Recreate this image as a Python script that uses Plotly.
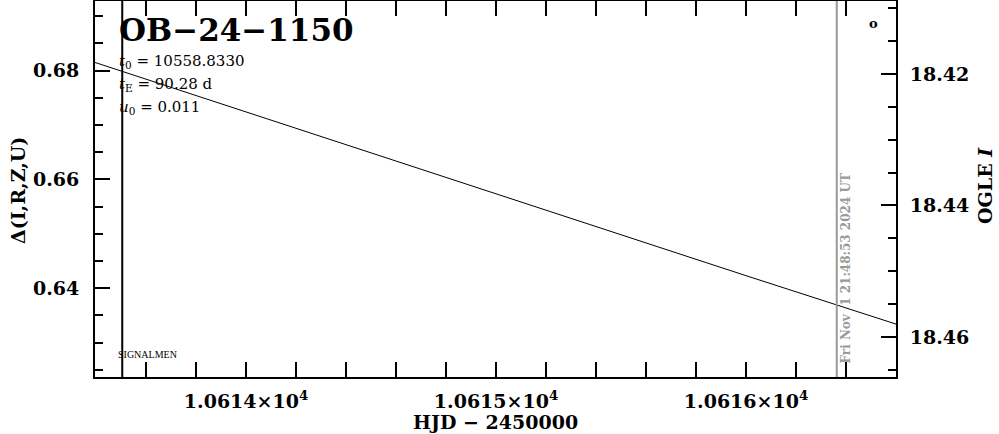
import plotly.graph_objects as go

# ---- data ----
model_hjd = [10613.396, 10614.0, 10615.0, 10616.0, 10616.6]
model_delta = [0.6815, 0.6724, 0.6573, 0.6423, 0.6334]
x_tick_vals = [10614, 10615, 10616]
x_tick_text = ["1.0614×10<sup>4</sup>", "1.0615×10<sup>4</sup>", "1.0616×10<sup>4</sup>"]
left_tick_vals = [0.64, 0.66, 0.68]
right_tick_vals = [18.42, 18.44, 18.46]
signalmen_hjd = 10613.505
now_hjd = 10616.363
x_range = [10613.396, 10616.6]
left_range = [0.62367, 0.6928]
right_range = [18.4661, 18.4089]
event_name = "OB−24−1150"
params_text = ["<i>t</i><sub>0</sub> = 10558.8330",
               "<i>t</i><sub>E</sub> = 90.28 d",
               "<i>u</i><sub>0</sub> = 0.011"]
now_text = "Fri Nov  1 21:48:53 2024 UT"
x_title = "HJD − 2450000"
left_title = "Δ(I,R,Z,U)"
right_title = "OGLE <i>I</i>"

SERIF = "DejaVu Serif"
tickfont = dict(family=SERIF, size=19, color="black", weight="bold")
titlefont = dict(family=SERIF, size=19, color="black", weight="bold")

fig = go.Figure()
fig.add_trace(go.Scatter(x=model_hjd, y=model_delta, mode="lines",
                         line=dict(color="black", width=1), showlegend=False,
                         hoverinfo="skip"))
# dummy trace to activate right axis
fig.add_trace(go.Scatter(x=[x_range[0]], y=[right_range[0]], yaxis="y2",
                         mode="markers", marker=dict(opacity=0), showlegend=False,
                         hoverinfo="skip"))

axis_common = dict(showgrid=False, zeroline=False, showline=True, linecolor="black",
                   linewidth=2, ticks="inside", tickcolor="black", tickwidth=2,
                   ticklen=15, tickfont=tickfont, automargin=False)

fig.update_layout(
    width=999, height=434,
    margin=dict(l=95, r=103, t=1, b=57),
    paper_bgcolor="white", plot_bgcolor="white",
    xaxis=dict(range=x_range, tickmode="array", tickvals=x_tick_vals,
               ticktext=x_tick_text, mirror="allticks",
               minor=dict(dtick=0.2, tick0=10614, ticklen=8, tickwidth=2,
                          tickcolor="black", ticks="inside"),
               ticklabelstandoff=6, **axis_common),
    yaxis=dict(range=left_range, tickmode="array", tickvals=left_tick_vals,
               tickformat=".2f",
               minor=dict(dtick=0.005, tick0=0.64, ticklen=8, tickwidth=2,
                          tickcolor="black", ticks="inside"),
               ticklabelstandoff=10, **axis_common),
    yaxis2=dict(range=right_range, overlaying="y", side="right", anchor="x",
                tickmode="array", tickvals=right_tick_vals, tickformat=".2f",
                minor=dict(dtick=0.005, tick0=18.42, ticklen=8, tickwidth=2,
                           tickcolor="black", ticks="inside"),
                ticklabelstandoff=8, **axis_common),
)

fig.add_shape(type="line", xref="x", yref="paper", x0=signalmen_hjd, x1=signalmen_hjd,
              y0=0, y1=1, line=dict(color="black", width=2))
fig.add_shape(type="line", xref="x", yref="paper", x0=now_hjd, x1=now_hjd,
              y0=0, y1=1, line=dict(color="#999999", width=2))

# axis titles
fig.add_annotation(xref="paper", yref="paper", x=0.5, y=0, yshift=-45,
                   xanchor="center", yanchor="middle", text=x_title,
                   showarrow=False, font=titlefont)
fig.add_annotation(xref="paper", yref="paper", x=0, xshift=-77, y=0.5, yshift=-2,
                   xanchor="center", yanchor="middle", text=left_title,
                   textangle=-90, showarrow=False, font=titlefont)
fig.add_annotation(xref="paper", yref="paper", x=1, xshift=89, y=0.5, yshift=3,
                   xanchor="center", yanchor="middle", text=right_title,
                   textangle=-90, showarrow=False, font=titlefont)

fig.add_annotation(xref="paper", yref="paper", x=0.027, y=0.975, xanchor="left",
                   yanchor="top", text=event_name, showarrow=False,
                   font=dict(family=SERIF, size=31, color="black", weight="bold"))
for i, t in enumerate(params_text):
    fig.add_annotation(xref="paper", yref="paper", x=0.027, y=0.84 - i * 0.062,
                       xanchor="left", yanchor="middle", text=t, showarrow=False,
                       font=dict(family=SERIF, size=15, color="black"))
fig.add_annotation(xref="x", yref="paper", x=signalmen_hjd, y=0.06,
                   xanchor="center", yanchor="middle", text="SIGNALMEN",
                   xshift=25, showarrow=False,
                   font=dict(family="Liberation Serif", size=10, color="black"))
fig.add_annotation(xref="x", yref="paper", x=now_hjd, y=0.03, xanchor="left",
                   yanchor="bottom", text=now_text, textangle=-90, showarrow=False,
                   xshift=0,
                   font=dict(family=SERIF, size=12, color="#999999", weight="bold"))
fig.add_annotation(xref="paper", yref="paper", x=0.972, y=0.94, xanchor="center",
                   yanchor="middle", text="o", showarrow=False,
                   font=dict(family=SERIF, size=13, color="black", weight="bold"))

fig.write_html("out.html", config={"displayModeBar": False},
               post_script="document.body.style.margin='0px';document.body.style.overflow='hidden';")
